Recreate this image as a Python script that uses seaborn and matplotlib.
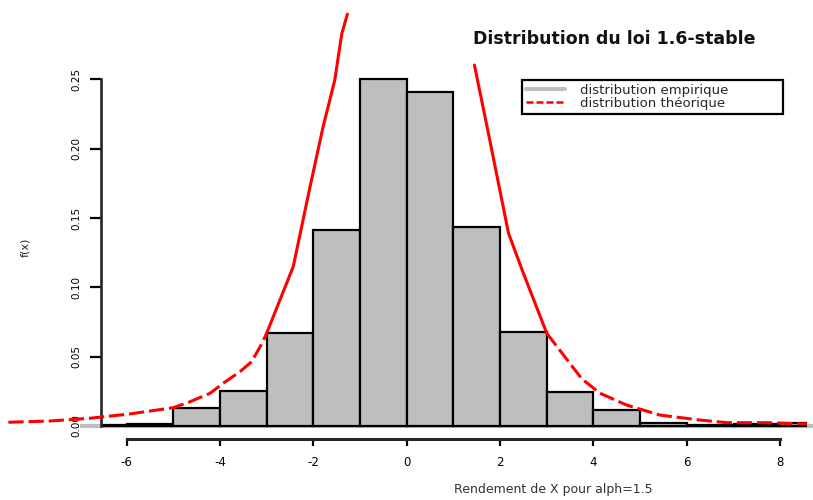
import numpy as np
import matplotlib
matplotlib.use("Agg")
import matplotlib.pyplot as plt
from matplotlib.lines import Line2D
import seaborn as sns

# ---- data ----
bin_edges = [-7, -6, -5, -4, -3, -2, -1, 0, 1, 2, 3, 4, 5, 6, 7, 8, 9]
bin_heights = [0.0005, 0.0017, 0.0128, 0.0252, 0.0673, 0.1413, 0.250, 0.241,
               0.1433, 0.068, 0.0247, 0.0115, 0.0024, 0.0007, 0.0015, 0.0024]

theo_x_left = [-8.53, -7.64, -6.78, -5.93, -5.0, -4.64, -4.21, -3.93, -3.57,
               -3.32, -3.10, -3.0, -2.43, -2.07, -1.79, -1.54, -1.39, -1.27]
theo_y_left = [0.0027, 0.0036, 0.0056, 0.0087, 0.0132, 0.0175, 0.0236, 0.0308,
               0.0392, 0.0464, 0.0596, 0.0668, 0.1149, 0.1725, 0.2158, 0.2495,
               0.283, 0.297]
theo_x_right = [1.45, 1.78, 2.18, 2.5, 3.0, 3.75, 4.14, 4.71, 5.42, 6.28, 6.85,
                7.71, 8.57]
theo_y_right = [0.2603, 0.206, 0.139, 0.110, 0.0668, 0.034, 0.0236, 0.0151,
                0.0079, 0.0043, 0.0024, 0.0024, 0.0014]

x_ticks = [-6, -4, -2, 0, 2, 4, 6, 8]
y_ticks = [0.00, 0.05, 0.10, 0.15, 0.20, 0.25]
y_tick_labels = ["0.00", "0.05", "0.10", "0.15", "0.20", "0.25"]

title = "Distribution du loi 1.6-stable"
x_label = "Rendement de X pour alph=1.5"
y_label = "f(x)"
legend_labels = ["distribution empirique", "distribution théorique"]

# ---- style ----
sns.set_style("ticks")
plt.rcParams["font.family"] = ["DejaVu Sans"]

W, H = 813, 500
fig = plt.figure(figsize=(W / 100, H / 100), dpi=100)
left_px, right_px, top_px, bottom_px = 100.7, 807, 14, 430
ax = fig.add_axes([left_px / W, 1 - bottom_px / H,
                   (right_px - left_px) / W, (bottom_px - top_px) / H])

GRAY = "#BEBEBE"
mids = [(a + b) / 2 for a, b in zip(bin_edges[:-1], bin_edges[1:])]

# baseline gray line
ax.plot([bin_edges[0], bin_edges[-1]], [0, 0], color=GRAY, lw=3,
        clip_on=False, zorder=1, solid_capstyle="butt")

sns.histplot(x=mids, weights=bin_heights, bins=bin_edges, stat="count",
             color=GRAY, edgecolor="black", linewidth=1.6, alpha=1,
             ax=ax, zorder=2)

# theoretical curve: solid core, dashed tails
def draw_branch(xs, ys):
    xs = np.asarray(xs); ys = np.asarray(ys)
    core = np.abs(xs) <= 3.0
    tail_l = xs <= -3.0
    tail_r = xs >= 3.0
    for m, ls in ((core, "-"), (tail_l, (0, (5, 1.6))), (tail_r, (0, (5, 1.6)))):
        if m.sum() >= 2:
            ax.plot(xs[m], ys[m], color="red", lw=2.2, linestyle=ls,
                    clip_on=False, zorder=3)

draw_branch(theo_x_left, theo_y_left)
draw_branch(theo_x_right, theo_y_right)

ax.set_xlim(-6.553, 8.572)
ax.set_ylim(-0.00288, 0.2971)

for s in ("top", "right"):
    ax.spines[s].set_visible(False)
ax.spines["left"].set_bounds(0, 0.25)
ax.spines["left"].set_linewidth(1.9)
ax.spines["bottom"].set_bounds(-6, 8)
ax.spines["bottom"].set_position(("outward", 6.8))
ax.spines["bottom"].set_linewidth(2.2)

ax.set_xticks(x_ticks)
ax.set_xticklabels([str(t) for t in x_ticks])
ax.set_yticks(y_ticks)
ax.set_yticklabels(y_tick_labels)
ax.tick_params(axis="x", direction="out", length=4.8, width=1.6, pad=7,
               labelsize=8.5, colors="black")
ax.tick_params(axis="y", direction="out", length=7.7, width=1.6, pad=6,
               labelsize=7.5, labelrotation=90, colors="black")
for lab in ax.get_yticklabels():
    lab.set_va("center")
ax.set_xlabel("")
ax.set_ylabel("")
ax.grid(False)

fig.text(614.5 / W, 1 - 39 / H, title, ha="center", va="center",
         fontsize=12.5, fontweight="bold", color="#111111")
fig.text(454 / W, 1 - 490 / H, x_label, ha="left", va="center",
         fontsize=9, color="#333333")
fig.text(25 / W, 1 - 247 / H, y_label, ha="center", va="center",
         fontsize=8, rotation=90, color="#222222")

handles = [Line2D([], [], color=GRAY, lw=3),
           Line2D([], [], color="red", lw=1.8, linestyle=(0, (2.8, 1.2)))]
leg = fig.legend(handles, legend_labels, loc="upper left",
                 bbox_to_anchor=(521.7 / W, 1 - 118 / H, (783 - 521.7) / W, 38 / H),
                 mode="expand", borderaxespad=0, fontsize=9.5, frameon=True,
                 fancybox=False, framealpha=1, edgecolor="black",
                 handlelength=3.0, handletextpad=1.1, labelspacing=0.0,
                 borderpad=0.3)
leg.get_frame().set_linewidth(1.6)

fig.savefig("out.png", dpi=100)
